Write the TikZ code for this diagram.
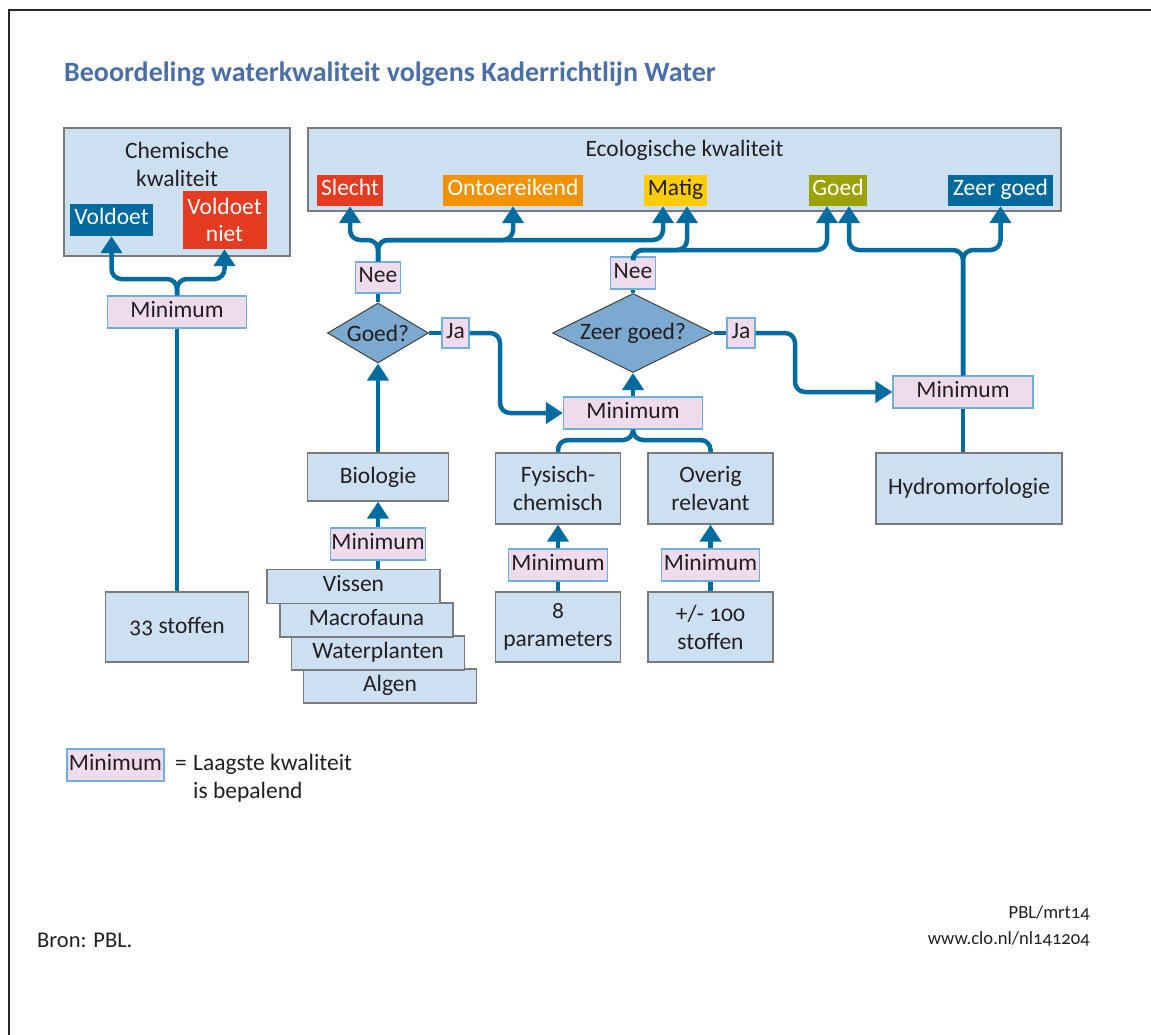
\documentclass[tikz,border=0pt]{standalone}
\usepackage{fontspec}
\setmainfont{Carlito}[Numbers=OldStyle]
\usepackage{tikz}
\usetikzlibrary{arrows.meta,positioning,shapes.geometric,calc}
\definecolor{kborder}{HTML}{7A7A7A}
\definecolor{kfill}{HTML}{CDE0F1}
\definecolor{kline}{HTML}{006B9E}
\definecolor{kpink}{HTML}{EEDCEC}
\definecolor{kpinkrand}{HTML}{6FB0DA}
\definecolor{kdia}{HTML}{7BA9D0}
\definecolor{ktitle}{HTML}{4A6FA8}
\definecolor{kslecht}{HTML}{E53B20}
\definecolor{konto}{HTML}{F39200}
\definecolor{kmatig}{HTML}{FFCC00}
\definecolor{kgoed}{HTML}{9CA200}
\definecolor{kzeer}{HTML}{006A9E}
\definecolor{ktext}{HTML}{231F20}
\newcommand\kwfont{\fontsize{23.5}{28}\selectfont}
\tikzset{
  box/.style={draw=kborder, fill=kfill, line width=1.3pt, align=center, inner sep=0pt,
              font=\kwfont, text=ktext},
  laag/.style={box, minimum width=173pt, minimum height=34pt, text height=16pt, text depth=6pt},
  minbox/.style={draw=kpinkrand, fill=kpink, line width=1.3pt, inner sep=0pt, font=\kwfont,
                 text=ktext, minimum height=32pt, text height=16pt, text depth=6pt},
  dec/.style={diamond, aspect=2, draw=black!75, fill=kdia, line width=1pt, inner sep=0pt,
              font=\kwfont, text=ktext},
  cat/.style={inner sep=0pt, font=\kwfont, text=white, minimum height=31pt, align=center,
              text height=16pt, text depth=6pt},
  arr/.style={-{Triangle[width=21pt,length=17pt]}, draw=kline, line width=4.5pt, rounded corners=10pt},
  link/.style={draw=kline, line width=4.5pt, rounded corners=10pt},
  lbl/.style={font=\kwfont, text=ktext, inner sep=0pt},
}
\begin{document}
\begin{tikzpicture}[x=1pt, y=-1pt]
  \useasboundingbox (0,0) rectangle (1151,1035);
  \draw[line width=2pt, black!85] (9,1035) -- (9,10) -- (1151,10);

  \node[anchor=base west, inner sep=0pt, text=ktitle,
        font=\fontsize{28}{32}\selectfont\bfseries] (titel) at (64,82)
        {Beoordeling waterkwaliteit volgens Kaderrichtlijn Water};

  % Chemische kwaliteit
  \node[box, minimum width=226pt, minimum height=128pt] (chem) at (177,192) {};
  \node[lbl, align=center] (chemlbl) at (177,164) {Chemische\\kwaliteit};
  \node[cat, fill=kzeer, minimum width=83pt, minimum height=32pt] (voldoet) at (111.5,220) {Voldoet};
  \node[cat, fill=kslecht, minimum width=84pt, minimum height=58pt, text height=, text depth=,
        font=\fontsize{23.5}{27}\selectfont] (voldoetniet) at (224.5,220) {Voldoet\\niet};
  \node[minbox, minimum width=139pt] (minchem) at (177,312) {Minimum};
  \node[box, minimum width=143pt, minimum height=70pt] (stof33) at (177,627) {33 stoffen};

  % Ecologische kwaliteit
  \node[box, minimum width=753pt, minimum height=83pt] (eco) at (684.5,169.5) {};
  \node[lbl] (ecolbl) at (684.5,150) {Ecologische kwaliteit};
  \node[cat, fill=kslecht, minimum width=66pt] (slecht) at (350,190.5) {Slecht};
  \node[cat, fill=konto, minimum width=140pt] (onto) at (513,190.5) {Ontoereikend};
  \node[cat, fill=kmatig, text=ktext, minimum width=63pt] (matig) at (675.5,190.5) {Matig};
  \node[cat, fill=kgoed, minimum width=58pt] (goed) at (838,190.5) {Goed};
  \node[cat, fill=kzeer, minimum width=105pt] (zeer) at (1000.5,190.5) {Zeer goed};

  % beslissingen
  \node[minbox, minimum width=45pt, minimum height=31pt] (nee1) at (378,277.5) {Nee};
  \node[minbox, minimum width=45pt, minimum height=32pt] (nee2) at (633,273) {Nee};
  \node[dec, minimum width=101pt, minimum height=60pt] (goedvraag) at (378,333) {Goed?};
  \node[dec, minimum width=161pt, minimum height=79pt] (zeervraag) at (633,333) {Zeer goed?};
  \node[minbox, minimum width=27pt, minimum height=30pt] (ja1) at (455.5,333) {Ja};
  \node[minbox, minimum width=28pt, minimum height=30pt] (ja2) at (741,333) {Ja};
  \node[minbox, minimum width=139pt] (min2) at (633,413) {Minimum};
  \node[minbox, minimum width=140pt] (min3) at (963,392) {Minimum};
  \node[box, minimum width=186pt, minimum height=71pt] (hydro) at (969,488.5) {Hydromorfologie};

  % biologie
  \node[box, minimum width=141pt, minimum height=48pt] (bio) at (378,477) {Biologie};
  \node[minbox, minimum width=95pt] (minbio) at (378,544) {Minimum};
  \node[laag] (algen) at (390,686) {Algen};
  \node[laag] (planten) at (378,653) {Waterplanten};
  \node[laag] (fauna) at (366.5,620) {Macrofauna};
  \node[laag] (vissen) at (353.5,586.5) {Vissen};

  % fysisch-chemisch en overig
  \node[box, minimum width=125pt, minimum height=71pt] (fys) at (558,488.5) {Fysisch-\\chemisch};
  \node[box, minimum width=125pt, minimum height=71pt] (overig) at (710.5,488.5) {Overig\\relevant};
  \node[minbox, minimum width=99pt] (minfys) at (558,565) {Minimum};
  \node[minbox, minimum width=98pt] (minov) at (710.5,565) {Minimum};
  \node[box, minimum width=125pt, minimum height=70pt] (par8) at (558,627) {8\\parameters};
  \node[box, minimum width=125pt, minimum height=70pt] (stof100) at (710.5,627) {+/- 100\\stoffen};

  % legenda en bron
  \node[minbox, minimum width=97pt] (legmin) at (115.5,765) {Minimum};
  \node[lbl, anchor=base west] (legis) at (175,770) {=};
  \node[lbl, anchor=base west] (leg1) at (193,770) {Laagste kwaliteit};
  \node[lbl, anchor=base west] (leg2) at (193,798) {is bepalend};
  \node[lbl, anchor=base west, font=\fontsize{22.5}{26}\selectfont] (bron) at (37,947) {Bron: PBL.};
  \node[lbl, anchor=base east, font=\fontsize{18.6}{26}\selectfont] (pbl) at (1090,918) {PBL/mrt14};
  \node[lbl, anchor=base east, font=\fontsize{18.6}{26}\selectfont] (clo) at (1090,944) {www.clo.nl/nl141204};

  % hulppunten
  \coordinate (chemsplit) at (0,279);
  \coordinate (busnee) at (0,240);
  \coordinate (busgoed) at (0,250);
  \coordinate (busfys) at (0,440);
  \coordinate (ja1bocht) at (500,0);
  \coordinate (ja2bocht) at (795,0);
  \coordinate (matigL) at ([xshift=-12.5pt]matig.south);
  \coordinate (matigR) at ([xshift=11.5pt]matig.south);
  \coordinate (goedL) at ([xshift=-11pt]goed.south);
  \coordinate (goedR) at ([xshift=11pt]goed.south);

  % chemie
  \draw[link] (stof33) -- (minchem);
  \draw[arr] (minchem.north) |- (voldoet.south |- chemsplit) -- (voldoet.south);
  \draw[arr] (minchem.north) |- (voldoetniet.south |- chemsplit) -- (voldoetniet.south);

  % ecologie
  \draw[arr] (nee1.north) |- (slecht.south |- busnee) -- (slecht.south);
  \draw[arr] (nee1.north) |- (onto.south |- busnee) -- (onto.south);
  \draw[arr] (nee1.north) |- (matigL |- busnee) -- (matigL);
  \draw[arr] (nee2.north) |- (matigR |- busgoed) -- (matigR);
  \draw[arr] (nee2.north) |- (goedL |- busgoed) -- (goedL);
  \draw[arr] (min3.north) |- (goedR |- busgoed) -- (goedR);
  \draw[arr] (min3.north) |- (zeer.south |- busgoed) -- (zeer.south);
  \draw[link] (goedvraag) -- (nee1);
  \draw[link] (zeervraag) -- (nee2);
  \draw[link] (goedvraag) -- (ja1);
  \draw[link] (zeervraag) -- (ja2);
  \draw[arr] (ja1.east) -| (ja1bocht |- min2.west) -- (min2.west);
  \draw[arr] (ja2.east) -| (ja2bocht |- min3.west) -- (min3.west);
  \draw[arr] (min2) -- (zeervraag);
  \draw[arr] (bio) -- (goedvraag);
  \draw[link] (min3.south) -- (min3.south |- hydro.north);
  \draw[link] (fys.north) |- (min2.south |- busfys) -- (min2.south);
  \draw[link] (overig.north) |- (min2.south |- busfys) -- (min2.south);

  % onderste lagen
  \draw[arr] (minbio) -- (bio);
  \draw[link] (minbio.south) -- (minbio.south |- vissen.north);
  \draw[arr] (minfys) -- (fys);
  \draw[link] (par8) -- (minfys);
  \draw[arr] (minov) -- (overig);
  \draw[link] (stof100) -- (minov);
\end{tikzpicture}
\end{document}
